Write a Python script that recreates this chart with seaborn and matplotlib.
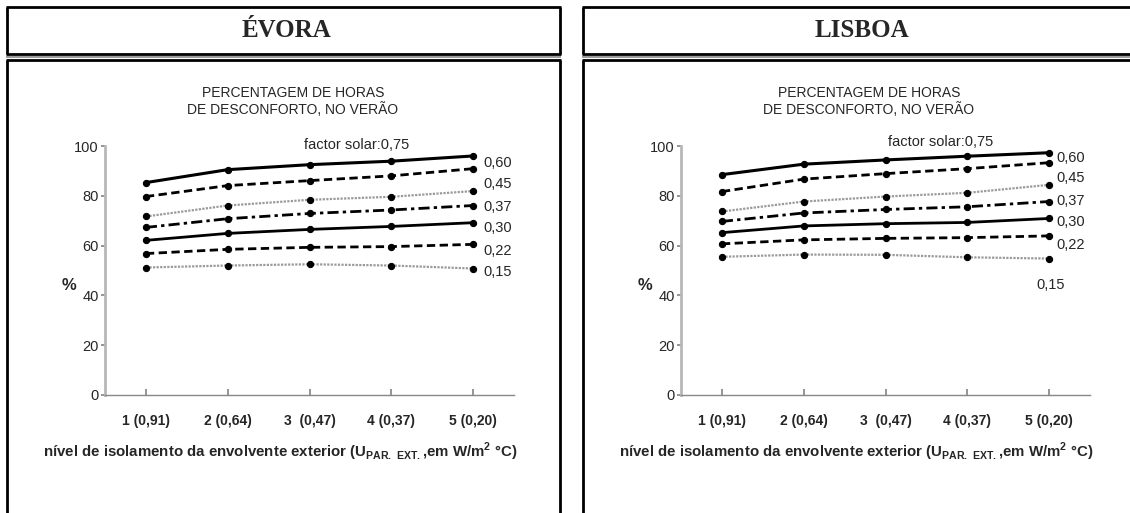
import matplotlib
matplotlib.use("Agg")
import matplotlib.pyplot as plt
import seaborn as sns
import numpy as np
from matplotlib.lines import Line2D

# ---------------- data ----------------
x_levels = [1, 2, 3, 4, 5]
x_ticklabels = ["1 (0,91)", "2 (0,64)", "3  (0,47)", "4 (0,37)", "5 (0,20)"]
factor_labels = ["0,75", "0,60", "0,45", "0,37", "0,30", "0,22", "0,15"]

evora_075 = [85.3, 90.5, 92.5, 93.9, 96.0]
evora_060 = [79.7, 84.1, 86.1, 88.0, 90.9]
evora_045 = [71.7, 76.1, 78.4, 79.6, 81.9]
evora_037 = [67.3, 70.8, 72.9, 74.3, 76.1]
evora_030 = [62.1, 64.9, 66.5, 67.7, 69.2]
evora_022 = [56.8, 58.5, 59.3, 59.6, 60.5]
evora_015 = [51.2, 52.0, 52.5, 52.0, 50.8]

lisboa_075 = [88.5, 92.7, 94.4, 95.9, 97.3]
lisboa_060 = [81.7, 86.7, 88.9, 90.9, 93.3]
lisboa_045 = [73.7, 77.7, 79.7, 81.2, 84.4]
lisboa_037 = [69.7, 73.1, 74.5, 75.6, 77.7]
lisboa_030 = [65.2, 67.9, 68.8, 69.3, 70.9]
lisboa_022 = [60.7, 62.3, 62.9, 63.2, 63.9]
lisboa_015 = [55.5, 56.4, 56.3, 55.3, 54.8]

evora_series = [evora_075, evora_060, evora_045, evora_037, evora_030, evora_022, evora_015]
lisboa_series = [lisboa_075, lisboa_060, lisboa_045, lisboa_037, lisboa_030, lisboa_022, lisboa_015]

# ---------------- style ----------------
sns.set_theme(style="white")
plt.rcParams["font.family"] = ["Liberation Sans", "DejaVu Sans"]
plt.rcParams["mathtext.fontset"] = "custom"
plt.rcParams["mathtext.rm"] = "Liberation Sans"
plt.rcParams["mathtext.bf"] = "Liberation Sans:bold"

styles = [
    dict(color="black", linestyle="-", linewidth=2.2),
    dict(color="black", linestyle=(0, (3, 1.6)), linewidth=2.0),
    dict(color="#9a9a9a", linestyle=(0, (1, 0.6)), linewidth=1.6),
    dict(color="black", linestyle=(0, (4, 1.5, 1.2, 1.5)), linewidth=2.0),
    dict(color="black", linestyle="-", linewidth=2.0),
    dict(color="black", linestyle=(0, (3, 1.6)), linewidth=2.0),
    dict(color="#9a9a9a", linestyle=(0, (1, 0.6)), linewidth=1.6),
]

W, H = 1130, 513
fig = plt.figure(figsize=(W / 100, H / 100), dpi=100)
fig.patch.set_facecolor("white")


def fx(px):
    return px / W


def fy(py):
    return 1 - py / H


def hline(x0, x1, y, lw=2.0, color="black"):
    fig.add_artist(Line2D([fx(x0), fx(x1)], [fy(y), fy(y)], transform=fig.transFigure,
                          color=color, lw=lw, solid_capstyle="butt"))


def vline(x, y0, y1, lw=2.0, color="black"):
    fig.add_artist(Line2D([fx(x), fx(x)], [fy(y0), fy(y1)], transform=fig.transFigure,
                          color=color, lw=lw, solid_capstyle="butt"))


panels = [
    dict(offset=0, title="ÉVORA", series=evora_series,
         lab_x=[5.12] * 6, lab_y=[93.3, 84.9, 75.6, 66.9, 58.0, 49.2],
         fs_xy=(3.58, 100.6)),
    dict(offset=576, title="LISBOA", series=lisboa_series,
         lab_x=[5.09, 5.09, 5.09, 5.09, 5.09, 4.84], lab_y=[95.3, 87.2, 78.0, 69.6, 60.3, 44.3],
         fs_xy=(3.68, 101.6)),
]

for p in panels:
    o = p["offset"]
    # frame
    bx0, bx1 = 7 + o, 560 + o
    hline(bx0 - 1, bx1 + 1, 7)
    hline(bx0 - 1, bx1 + 1, 54)
    hline(bx0 - 1, bx1 + 1, 57, lw=1.4, color="#9a9a9a")
    hline(bx0 - 1, bx1 + 1, 59.5)
    vline(bx0, 7, 54)
    vline(bx1, 7, 54)
    vline(bx0, 59.5, H + 2)
    vline(bx1, 59.5, H + 2)

    fig.text(fx(286 + o), fy(31), p["title"], ha="center", va="center",
             family="Liberation Serif", fontweight="bold", fontsize=18)
    fig.text(fx(293 + o), fy(101.5), "PERCENTAGEM DE HORAS\nDE DESCONFORTO, NO VERÃO",
             ha="center", va="center", fontsize=10, linespacing=1.25)

    ax = fig.add_axes([fx(105 + o), fy(395), 409 / W, 249 / H])
    ax.set_facecolor("none")
    for vals, st in zip(p["series"], styles):
        sns.lineplot(x=x_levels, y=vals, ax=ax, marker="o", markersize=4.5,
                     markerfacecolor="black", markeredgecolor="black",
                     legend=False, **st)
    ax.set_xlim(0.5, 5.5)
    ax.set_ylim(0, 100)
    ax.set_yticks([0, 20, 40, 60, 80, 100])
    ax.set_xticks(x_levels)
    ax.set_xticklabels(x_ticklabels, fontweight="bold", fontsize=10)
    ax.tick_params(axis="x", direction="in", length=4, color="#888888", pad=14, bottom=True)
    ax.tick_params(axis="y", direction="out", length=3, color="#888888", pad=1.5,
                   labelsize=10.5, left=True)
    for s in ["top", "right"]:
        ax.spines[s].set_visible(False)
    ax.spines["left"].set_color("#b8b8b8")
    ax.spines["left"].set_linewidth(2.0)
    ax.spines["bottom"].set_color("#888888")
    ax.spines["bottom"].set_linewidth(1.0)
    ax.set_xlabel("")
    ax.set_ylabel("")

    ax.text(p["fs_xy"][0], p["fs_xy"][1], "factor solar:" + factor_labels[0],
            ha="center", va="center", fontsize=10.5)
    for lx, ly, lab in zip(p["lab_x"], p["lab_y"], factor_labels[1:]):
        ax.text(lx, ly, lab, ha="left", va="center", fontsize=10.5)

    fig.text(fx(69 + o), fy(285), "%", ha="center", va="center",
             fontsize=12, fontweight="bold")
    fig.text(fx(280 + o), fy(452),
             r"nível de isolamento da envolvente exterior (U$_{\mathbf{PAR.\ EXT.}}$,em W/m$^{\mathbf{2}}$ °C)",
             ha="center", va="center", fontsize=10.8, fontweight="bold")

fig.savefig("out.png", dpi=100, facecolor="white")
